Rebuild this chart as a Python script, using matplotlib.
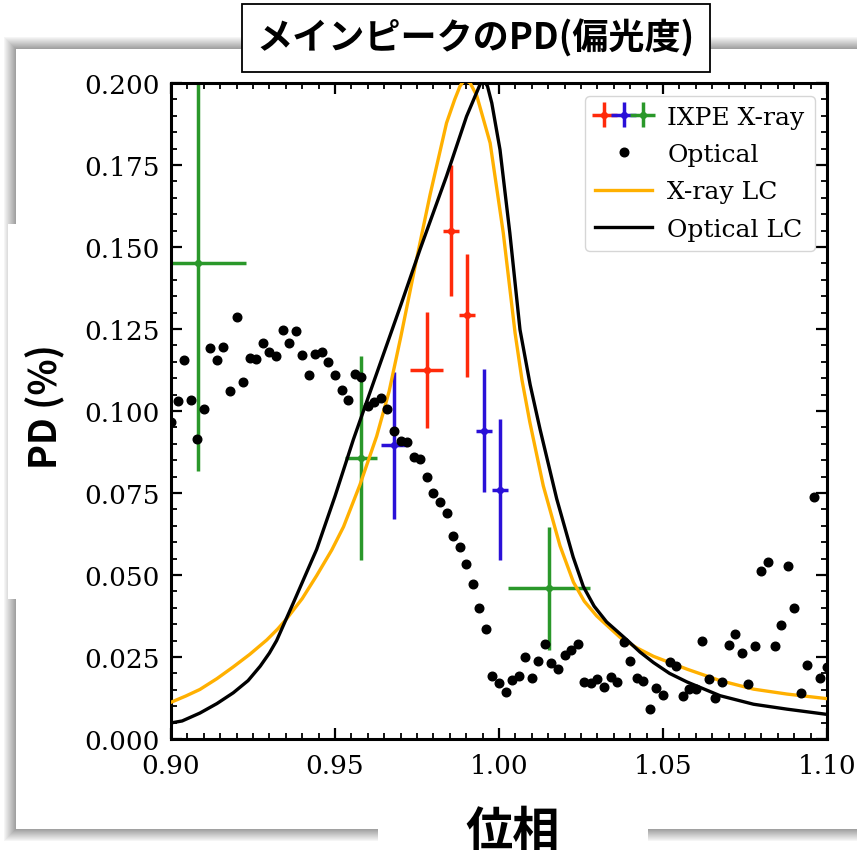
import matplotlib
matplotlib.use("Agg")
import matplotlib.pyplot as plt
from matplotlib.patches import Rectangle
from matplotlib.ticker import MultipleLocator, FormatStrFormatter
from matplotlib.legend_handler import HandlerTuple

plt.rcParams['font.family'] = 'serif'
plt.rcParams['font.serif'] = ['DejaVu Serif']
JP = ['Noto Sans CJK JP', 'DejaVu Sans']

# ---- data ----
opt_phase = [0.900, 0.902, 0.904, 0.906, 0.908, 0.910, 0.912, 0.914, 0.916, 0.918,
             0.920, 0.922, 0.924, 0.926, 0.928, 0.930, 0.932, 0.934, 0.936, 0.938,
             0.940, 0.942, 0.944, 0.946, 0.948, 0.950, 0.952, 0.954, 0.956, 0.958,
             0.960, 0.962, 0.964, 0.966, 0.968, 0.970, 0.972, 0.974, 0.976, 0.978,
             0.980, 0.982, 0.984, 0.986, 0.988, 0.990, 0.992, 0.994, 0.996, 0.998,
             1.000, 1.002, 1.004, 1.006, 1.008, 1.010, 1.012, 1.014, 1.016, 1.018,
             1.020, 1.022, 1.024, 1.026, 1.028, 1.030, 1.032, 1.034, 1.036, 1.038,
             1.040, 1.042, 1.044, 1.046, 1.048, 1.050, 1.052, 1.054, 1.056, 1.058,
             1.060, 1.062, 1.064, 1.066, 1.068, 1.070, 1.072, 1.074, 1.076, 1.078,
             1.080, 1.082, 1.084, 1.086, 1.088, 1.090, 1.092, 1.094, 1.096, 1.098,
             1.100]
opt_pd = [0.0966, 0.1030, 0.1154, 0.1035, 0.0916, 0.1006, 0.1191, 0.1156, 0.1196, 0.1062,
          0.1286, 0.1088, 0.1162, 0.1159, 0.1208, 0.1181, 0.1169, 0.1247, 0.1207, 0.1245,
          0.1170, 0.1110, 0.1175, 0.1181, 0.1150, 0.1111, 0.1063, 0.1033, 0.1112, 0.1104,
          0.1014, 0.1027, 0.1041, 0.1005, 0.0939, 0.0909, 0.0905, 0.0859, 0.0854, 0.0800,
          0.0750, 0.0724, 0.0688, 0.0620, 0.0585, 0.0534, 0.0473, 0.0400, 0.0336, 0.0191,
          0.0171, 0.0143, 0.0180, 0.0193, 0.0249, 0.0185, 0.0239, 0.0290, 0.0232, 0.0212,
          0.0256, 0.0272, 0.0290, 0.0175, 0.0171, 0.0183, 0.0160, 0.0190, 0.0175, 0.0295,
          0.0239, 0.0187, 0.0177, 0.0091, 0.0157, 0.0135, 0.0235, 0.0223, 0.0132, 0.0152,
          0.0152, 0.0298, 0.0183, 0.0124, 0.0174, 0.0286, 0.0319, 0.0261, 0.0169, 0.0284,
          0.0513, 0.0541, 0.0284, 0.0349, 0.0528, 0.0400, 0.0139, 0.0225, 0.0738, 0.0185,
          0.0220]

red_x = [0.9779, 0.9853, 0.9903]
red_y = [0.1125, 0.1550, 0.1292]
red_xerr = [0.0050, 0.0024, 0.0024]
red_yerr = [0.0178, 0.0200, 0.0187]

blue_x = [0.9679, 0.9955, 1.0003]
blue_y = [0.0895, 0.0940, 0.0760]
blue_xerr = [0.0039, 0.0025, 0.0024]
blue_yerr = [0.0223, 0.0188, 0.0215]

green_x = [0.9081, 0.9579, 1.0153]
green_y = [0.1451, 0.0857, 0.0459]
green_xerr = [0.0148, 0.0049, 0.0125]
green_yerr = [0.0635, 0.0310, 0.0187]

xlc_phase = [0.900, 0.9045, 0.9088, 0.914, 0.919, 0.924, 0.9292, 0.9325, 0.9353, 0.940,
             0.9444, 0.9490, 0.9526, 0.9576, 0.9627, 0.9665, 0.9701, 0.9745, 0.9790, 0.9840,
             0.9865, 0.9881, 0.9895, 0.9912, 0.9932, 0.9973, 1.0013, 1.0049, 1.0070, 1.0094,
             1.0135, 1.0186, 1.0227, 1.0260, 1.0298, 1.0369, 1.0420, 1.0471, 1.0573, 1.0674,
             1.0776, 1.0878, 1.100]
xlc_val = [0.0112, 0.0131, 0.0151, 0.0184, 0.0220, 0.0258, 0.0302, 0.0335, 0.0367, 0.0428,
           0.0498, 0.0576, 0.0647, 0.0775, 0.0923, 0.1060, 0.1228, 0.1445, 0.1660, 0.1878,
           0.1950, 0.1990, 0.2010, 0.2000, 0.1962, 0.1817, 0.1543, 0.1238, 0.1095, 0.0966,
           0.0772, 0.0589, 0.0478, 0.0420, 0.0375, 0.0310, 0.0278, 0.0252, 0.0213, 0.0178,
           0.0152, 0.0137, 0.0123]

olc_phase = [0.900, 0.9034, 0.9088, 0.914, 0.919, 0.9235, 0.9272, 0.9300, 0.9322, 0.9373,
             0.9444, 0.9500, 0.9556, 0.9581, 0.9701, 0.9759, 0.9840, 0.9901, 0.9942, 0.9952,
             0.9965, 0.9978, 1.0003, 1.0033, 1.0064, 1.0095, 1.0125, 1.0176, 1.0226, 1.0257,
             1.0290, 1.0328, 1.0389, 1.0430, 1.0471, 1.0520, 1.0573, 1.0674, 1.0776, 1.0878,
             1.100]
olc_val = [0.0049, 0.0055, 0.0079, 0.0108, 0.0141, 0.0178, 0.0222, 0.0262, 0.0300, 0.0415,
           0.0578, 0.0740, 0.0913, 0.0984, 0.1324, 0.1492, 0.1716, 0.1898, 0.1995, 0.2012,
           0.1990, 0.1939, 0.1797, 0.1543, 0.1248, 0.1080, 0.0945, 0.0732, 0.0555, 0.0465,
           0.0405, 0.0357, 0.0303, 0.0265, 0.0233, 0.0200, 0.0174, 0.0132, 0.0106, 0.0091,
           0.0075]

W, H = 857, 854
fig = plt.figure(figsize=(W / 100, H / 100), dpi=100)


def box(x0, y0, x1, y1, **kw):
    # pixel box (top-left origin) -> figure fraction rectangle
    r = Rectangle((x0 / W, 1 - y1 / H), (x1 - x0) / W, (y1 - y0) / H,
                  transform=fig.transFigure, **kw)
    fig.add_artist(r)
    return r


# slide frame with soft shadow
for m in range(12, 0, -1):
    g = 0.60 + 0.03 * m
    box(16 - m, 50 - m, 900 + m, 830 + m, facecolor=(g, g, g), edgecolor='none', zorder=-20)
box(16, 50, 900, 830, facecolor='white', edgecolor='none', zorder=-19)
# white patches under the labels
box(8, 225, 70, 600, facecolor='white', edgecolor='none', zorder=-18)
box(378, 800, 648, 860, facecolor='white', edgecolor='none', zorder=-18)

ax = fig.add_axes([171 / W, 1 - 740 / H, 656 / W, 656 / H])

eb_r = ax.errorbar(red_x, red_y, xerr=red_xerr, yerr=red_yerr, fmt='D', ms=4.5,
                   color='#ff2a0a', elinewidth=2.5, zorder=2)
eb_b = ax.errorbar(blue_x, blue_y, xerr=blue_xerr, yerr=blue_yerr, fmt='D', ms=4.5,
                   color='#2a10d8', elinewidth=2.5, zorder=2)
eb_g = ax.errorbar(green_x, green_y, xerr=green_xerr, yerr=green_yerr, fmt='D', ms=4.5,
                   color='#2a982a', elinewidth=2.5, zorder=2)

l_x, = ax.plot(xlc_phase, xlc_val, color='#ffb000', lw=2.4, zorder=3)
l_o, = ax.plot(olc_phase, olc_val, color='black', lw=2.4, zorder=3)
pts, = ax.plot(opt_phase, opt_pd, 'o', color='black', ms=6.2, ls='none', zorder=4)

ax.set_xlim(0.90, 1.10)
ax.set_ylim(0.0, 0.2)
ax.xaxis.set_major_locator(MultipleLocator(0.05))
ax.xaxis.set_minor_locator(MultipleLocator(0.005))
ax.yaxis.set_major_locator(MultipleLocator(0.025))
ax.yaxis.set_minor_locator(MultipleLocator(0.005))
ax.xaxis.set_major_formatter(FormatStrFormatter('%.2f'))
ax.yaxis.set_major_formatter(FormatStrFormatter('%.3f'))
ax.tick_params(which='both', direction='in', top=True, right=True)
ax.tick_params(which='major', length=8, width=1.6, labelsize=19)
ax.tick_params(which='minor', length=4, width=1.3)
ax.tick_params(axis='x', pad=10)
ax.tick_params(axis='y', pad=8)
for s in ax.spines.values():
    s.set_linewidth(2.2)

leg = ax.legend([(eb_r, eb_b, eb_g), pts, l_x, l_o],
                ['IXPE X-ray', 'Optical', 'X-ray LC', 'Optical LC'],
                handler_map={tuple: HandlerTuple(ndivide=None, pad=0)},
                loc='upper right', fontsize=18, handlelength=2.3,
                labelspacing=0.58, borderpad=0.4, handletextpad=0.6)

fig.text(476 / W, 1 - 39 / H, 'メインピークのPD(偏光度)', family=JP, fontweight='bold',
         fontsize=26, ha='center', va='center',
         bbox=dict(boxstyle='square,pad=0.42', facecolor='white', edgecolor='black', lw=1.3))
fig.text(45 / W, 1 - 407 / H, 'PD (%)', family=JP, fontweight='bold', fontsize=27,
         rotation=90, ha='center', va='center')
fig.text(513 / W, 1 - 832 / H, '位相', family=JP, fontweight='bold', fontsize=34,
         ha='center', va='center')

fig.savefig('out.png', dpi=100)
